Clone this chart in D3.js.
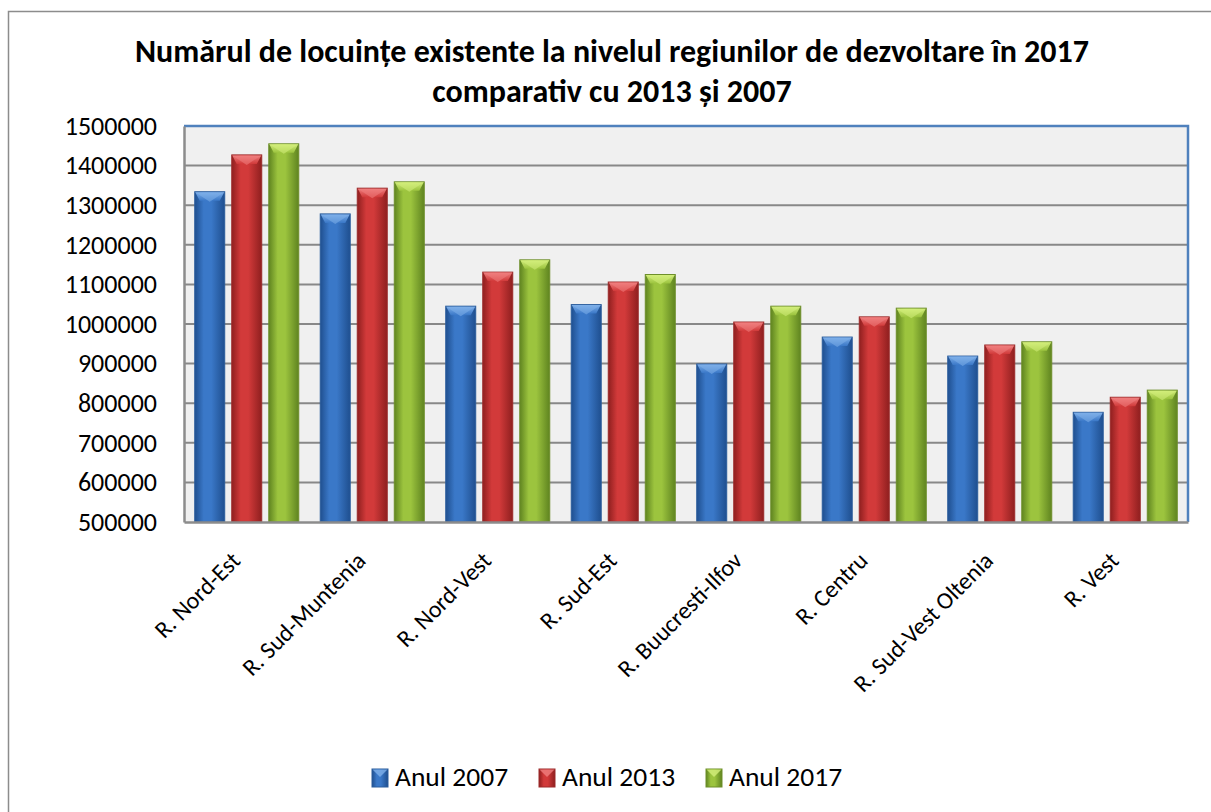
<!DOCTYPE html>
<html><head><meta charset="utf-8">
<script src="https://cdn.jsdelivr.net/npm/d3@7"></script>
<style>
html,body{margin:0;padding:0;background:#fff;}
svg{display:block;font-family:Carlito, Lato, "Open Sans", sans-serif;}
</style></head>
<body>
<svg id="c" width="1211" height="812"></svg>
<script>
const categories = ["R. Nord-Est","R. Sud-Muntenia","R. Nord-Vest","R. Sud-Est","R. Buucresti-Ilfov","R. Centru","R. Sud-Vest Oltenia","R. Vest"];
const seriesNames = ["Anul 2007","Anul 2013","Anul 2017"];
const values2007 = [1334000,1278000,1045000,1049000,899000,967000,919000,777000];
const values2013 = [1427000,1343000,1131000,1106000,1005000,1018000,947000,815000];
const values2017 = [1455000,1359000,1162000,1125000,1045000,1040000,955000,833000];
const yTicks = [500000,600000,700000,800000,900000,1000000,1100000,1200000,1300000,1400000,1500000];
const titleLines = ["Numărul de locuințe existente la nivelul regiunilor de dezvoltare în 2017","comparativ cu 2013 și 2007"];

const seriesValues = [values2007, values2013, values2017];
const colors = [
  {base:"#3a78c8", dark:"#1f4f8f", light:"#7fb0ea", edge:"#2b5d9c"},
  {base:"#d23a3a", dark:"#8f1f1f", light:"#f08080", edge:"#9c2b2b"},
  {base:"#9cc43e", dark:"#5f8420", light:"#d4ef7c", edge:"#6e8f2b"}
];

const svg = d3.select("#c");
const W = 1211, H = 812;
const plot = {left:184, right:1188, top:126, bottom:522};

const defs = svg.append("defs");
colors.forEach((c,i)=>{
  const g = defs.append("linearGradient").attr("id","g"+i).attr("x1","0").attr("x2","1").attr("y1","0").attr("y2","0");
  g.append("stop").attr("offset","0%").attr("stop-color",c.dark);
  g.append("stop").attr("offset","30%").attr("stop-color",c.base);
  g.append("stop").attr("offset","55%").attr("stop-color",c.base);
  g.append("stop").attr("offset","100%").attr("stop-color",c.dark);
  const t = defs.append("linearGradient").attr("id","t"+i).attr("x1","0").attr("x2","0").attr("y1","0").attr("y2","1");
  t.append("stop").attr("offset","0%").attr("stop-color",c.light);
  t.append("stop").attr("offset","100%").attr("stop-color",c.base);
});

svg.append("rect").attr("x",8.5).attr("y",11.5).attr("width",W).attr("height",H)
  .attr("fill","none").attr("stroke","#8c8c8c").attr("stroke-width",1.5);

const title = svg.append("text").attr("text-anchor","middle").attr("font-weight","bold")
  .attr("font-size",32).attr("fill","#000");
titleLines.forEach((t,i)=>{
  title.append("tspan").attr("x",612).attr("y",i===0?62:102).text(t);
});

const y = d3.scaleLinear().domain([500000,1500000]).range([plot.bottom, plot.top]);
const x0 = d3.scaleBand().domain(categories).range([plot.left, plot.right]).padding(0);
const x1 = d3.scaleBand().domain(seriesNames).range([0, x0.bandwidth()]).paddingInner(0.19).paddingOuter(0.29);

svg.append("rect").attr("x",plot.left).attr("y",plot.top).attr("width",plot.right-plot.left).attr("height",plot.bottom-plot.top)
  .attr("fill","#f0f0f0");

svg.append("g").selectAll("line").data(yTicks.slice(1,-1)).join("line")
  .attr("x1",plot.left).attr("x2",plot.right).attr("y1",d=>y(d)).attr("y2",d=>y(d))
  .attr("stroke","#888").attr("stroke-width",2);

svg.append("path").attr("d",`M${plot.left},${plot.top}H${plot.right}V${plot.bottom}`)
  .attr("fill","none").attr("stroke","#4f81bd").attr("stroke-width",2.5);

const groups = svg.append("g").selectAll("g").data(categories).join("g")
  .attr("transform",d=>`translate(${x0(d)},0)`);
groups.each(function(cat, ci){
  const g = d3.select(this);
  seriesNames.forEach((s, si)=>{
    const v = seriesValues[si][ci];
    const bx = x1(s), bw = x1.bandwidth(), by = y(v), bh = plot.bottom - by;
    g.append("rect").attr("x",bx).attr("y",by).attr("width",bw).attr("height",bh)
      .attr("fill",`url(#g${si})`).attr("stroke",colors[si].edge).attr("stroke-width",1);
    const bev = Math.min(9, bh/2);
    g.append("path").attr("d",`M${bx+0.5},${by+0.5}L${bx+bw-0.5},${by+0.5}L${bx+bw-5},${by+bev}L${bx+5},${by+bev}Z`)
      .attr("fill",`url(#t${si})`).attr("opacity",0.95);
    g.append("path").attr("d",`M${bx+0.5},${by+0.5}L${bx+bw/2},${by+bev+1}L${bx+bw-0.5},${by+0.5}Z`)
      .attr("fill",colors[si].light).attr("opacity",0.55);
  });
});

const yAxis = d3.axisLeft(y).tickValues(yTicks).tickSize(0).tickPadding(27).tickFormat(d3.format("d"));
const ya = svg.append("g").attr("transform",`translate(${plot.left},0)`).call(yAxis);
ya.select(".domain").attr("stroke","#8c8c8c").attr("stroke-width",2.5);
ya.selectAll("text").attr("font-size",26).attr("fill","#000").attr("font-family","Carlito, Lato, sans-serif");

const xAxis = d3.axisBottom(x0).tickSize(0).tickPadding(0);
const xa = svg.append("g").attr("transform",`translate(0,${plot.bottom})`).call(xAxis);
xa.select(".domain").attr("stroke","#8c8c8c").attr("stroke-width",2.5);
xa.selectAll("text").attr("font-size",24).attr("fill","#000").attr("font-family","Carlito, Lato, sans-serif")
  .attr("text-anchor","end").attr("dy",null).attr("y",null)
  .attr("transform","translate(-5,40) rotate(-45)");

const legend = svg.append("g").attr("transform","translate(372,769)");
const li = legend.selectAll("g").data(seriesNames).join("g").attr("transform",(d,i)=>`translate(${i*167},0)`);
li.append("rect").attr("width",16).attr("height",18).attr("fill",(d,i)=>`url(#g${i})`).attr("stroke",(d,i)=>colors[i].edge);
li.append("path").attr("d","M0.5,0.5L8,8L15.5,0.5Z").attr("fill",(d,i)=>colors[i].light).attr("opacity",0.8);
li.append("text").attr("x",23).attr("y",17).attr("font-size",27.5).attr("fill","#000").text(d=>d);
</script>
</body></html>
